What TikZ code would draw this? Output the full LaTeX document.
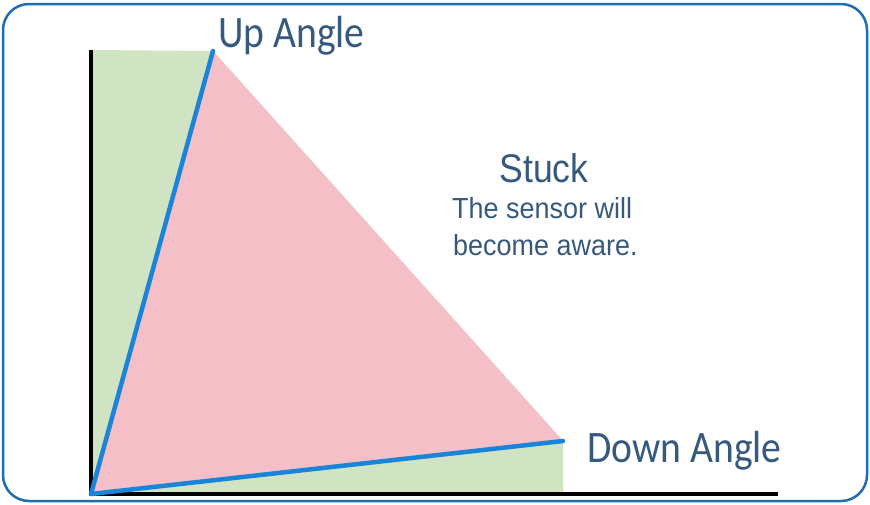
\documentclass[tikz,border=0pt]{standalone}
\usepackage{fontspec}
\newfontfamily\labelfont[FakeStretch=0.88]{Carlito}
\newfontfamily\bodyfont[FakeStretch=0.93]{Liberation Sans}
\newfontfamily\titlefont[FakeStretch=0.89]{Liberation Sans}
\definecolor{txt}{HTML}{35597F}
\definecolor{grn}{HTML}{D0E3C3}
\definecolor{pnk}{HTML}{F5BFC8}
\definecolor{ln}{HTML}{1A84D8}
\definecolor{frame}{HTML}{1F6DB3}
\tikzset{
  lbl/.style={text=txt, inner sep=0pt, font=\labelfont\fontsize{45}{50}\selectfont},
  body/.style={text=txt, inner sep=0pt, font=\bodyfont\fontsize{29}{34}\selectfont},
  title/.style={text=txt, inner sep=0pt, font=\titlefont\fontsize{40}{44}\selectfont},
  axis/.style={line width=4.5pt, black},
  angle/.style={line width=4.5pt, ln, line cap=round},
}
\begin{document}
\begin{tikzpicture}[x=1pt,y=-1pt]
\useasboundingbox (0,0) rectangle (870,504);
\fill[white] (0,0) rectangle (870,504);
\draw[frame, line width=2.5pt, rounded corners=26pt] (3,4) rectangle (867,501);
\coordinate (O) at (91,494);
\coordinate (U) at (213,51);
\coordinate (D) at (563,441);
\coordinate (TL) at (91,50);
\coordinate (BR) at (563,494);
\coordinate (XE) at (778,494);
\fill[grn] (TL) -- (U) -- (D) -- (BR) -- (O) -- cycle;
\fill[pnk] (O) -- (U) -- (D) -- cycle;
\draw[axis] (TL) -- (O) -- (XE);
\draw[angle] (O) -- (U);
\draw[angle] (O) -- (D);
\node[lbl, anchor=base west] (up) at (218,47) {Up Angle};
\node[lbl, anchor=base west] (down) at (587,462) {Down Angle};
\node[title, anchor=base] (stuck) at (544,182) {Stuck};
\node[body, anchor=base west] (l1) at (452,218) {The sensor will};
\node[body, anchor=base west] (l2) at (453,255) {become aware.};
\end{tikzpicture}
\end{document}
